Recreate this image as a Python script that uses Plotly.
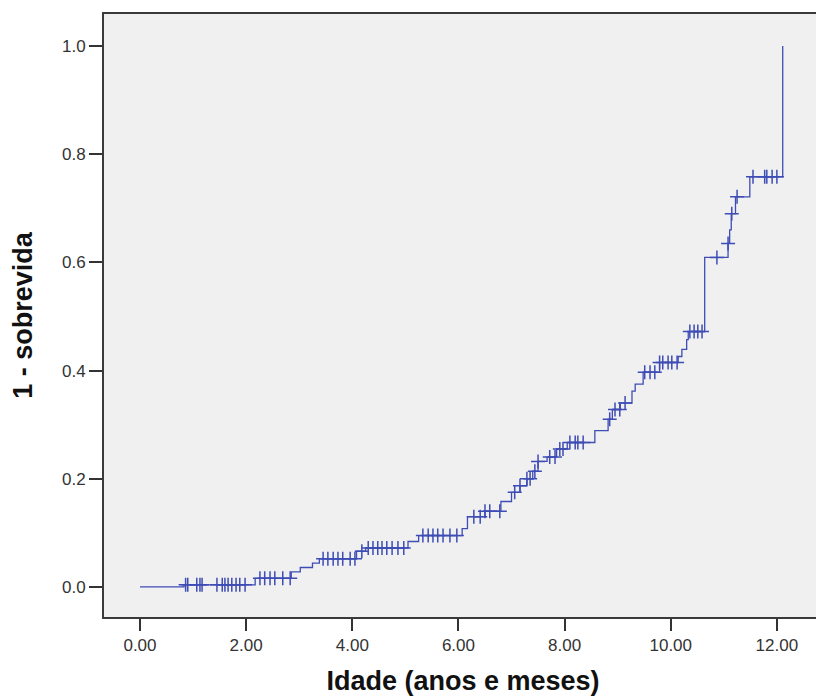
import plotly.graph_objects as go
import bisect

# Event times (years) and cumulative incidence (1 - survival) after each step
event_times = [0.00, 0.83, 2.17, 2.85, 3.02, 3.25, 3.38, 4.08, 4.25, 5.05, 5.25,
               6.07, 6.17, 6.50, 6.80, 7.00, 7.16, 7.29, 7.40, 7.50, 7.67, 7.85,
               8.05, 8.57, 8.82, 8.90, 9.05, 9.27, 9.33, 9.48, 9.79, 10.14, 10.21,
               10.30, 10.33, 10.64, 11.08, 11.11, 11.14, 11.22, 11.49, 12.11]
event_values = [0.000, 0.004, 0.016, 0.028, 0.036, 0.044, 0.052, 0.066, 0.072, 0.084, 0.095,
                0.108, 0.130, 0.140, 0.158, 0.175, 0.187, 0.200, 0.214, 0.232, 0.240, 0.255,
                0.267, 0.289, 0.310, 0.328, 0.340, 0.362, 0.375, 0.397, 0.415, 0.426, 0.439,
                0.457, 0.472, 0.609, 0.635, 0.660, 0.690, 0.721, 0.758, 1.000]

# Censored observation times (years)
censor_times = [0.86, 0.90, 1.07, 1.13, 1.17, 1.45, 1.55, 1.60, 1.66, 1.73, 1.81, 1.88, 1.98,
                2.26, 2.35, 2.45, 2.54, 2.69, 2.83,
                3.45, 3.54, 3.64, 3.73, 3.82, 3.96, 4.05,
                4.18, 4.30, 4.39, 4.48, 4.56, 4.65, 4.75, 4.86, 4.97,
                5.33, 5.43, 5.52, 5.61, 5.71, 5.84, 5.97,
                6.29, 6.41, 6.50, 6.59, 6.78, 7.06, 7.16, 7.29, 7.35, 7.44, 7.50,
                7.72, 7.82, 7.91, 7.97, 8.10, 8.20, 8.25, 8.35,
                8.85, 8.95, 9.04, 9.14, 9.51, 9.61, 9.70, 9.79, 9.85, 9.95, 10.02, 10.12,
                10.36, 10.44, 10.51, 10.59, 10.87, 11.08, 11.15, 11.25,
                11.55, 11.77, 11.81, 11.91, 12.00]

x_ticks = [0, 2, 4, 6, 8, 10, 12]
x_tick_labels = ["0.00", "2.00", "4.00", "6.00", "8.00", "10.00", "12.00"]
y_ticks = [0.0, 0.2, 0.4, 0.6, 0.8, 1.0]
y_tick_labels = ["0.0", "0.2", "0.4", "0.6", "0.8", "1.0"]

line_color = "#3e4db5"

def step_value(t):
    i = bisect.bisect_right(event_times, t) - 1
    return event_values[max(i, 0)]

censor_values = [step_value(t) for t in censor_times]

fig = go.Figure()
fig.add_trace(go.Scatter(
    x=event_times, y=event_values, mode="lines",
    line=dict(shape="hv", color=line_color, width=1.3),
    hoverinfo="skip", showlegend=False))
fig.add_trace(go.Scatter(
    x=censor_times, y=censor_values, mode="markers",
    marker=dict(symbol="cross-thin", size=10, line=dict(color=line_color, width=1.5)),
    showlegend=False))

axis_font = dict(family="Liberation Sans, Arial, sans-serif", size=17, color="#333333")
title_font = dict(family="Liberation Sans, Arial, sans-serif", size=27, color="#111111")

# The page body has an 8px margin, so the figure is sized to fill the window.
fig.update_layout(
    width=816, height=688,
    margin=dict(l=96, r=2, t=6, b=79),
    paper_bgcolor="white", plot_bgcolor="#f0f0f0",
    xaxis=dict(range=[-0.678, 12.85], tickvals=x_ticks, ticktext=x_tick_labels,
               ticks="outside", ticklen=12, tickwidth=1.5, tickcolor="#333333",
               showgrid=False, zeroline=False, showline=True, mirror=True,
               linecolor="#3a3a3a", linewidth=2, tickfont=axis_font, automargin=False,
               title=dict(text="<b>Idade (anos e meses)</b>", font=title_font, standoff=18)),
    yaxis=dict(range=[-0.0555, 1.059], tickvals=y_ticks, ticktext=y_tick_labels,
               ticks="outside", ticklen=13, tickwidth=1.5, tickcolor="#333333",
               showgrid=False, zeroline=False, showline=True, mirror=True,
               linecolor="#3a3a3a", linewidth=2, tickfont=axis_font, automargin=False,
               title=dict(text="<b>1 - sobrevida</b>", font=title_font, standoff=26)),
)

fig.write_html("out.html")
